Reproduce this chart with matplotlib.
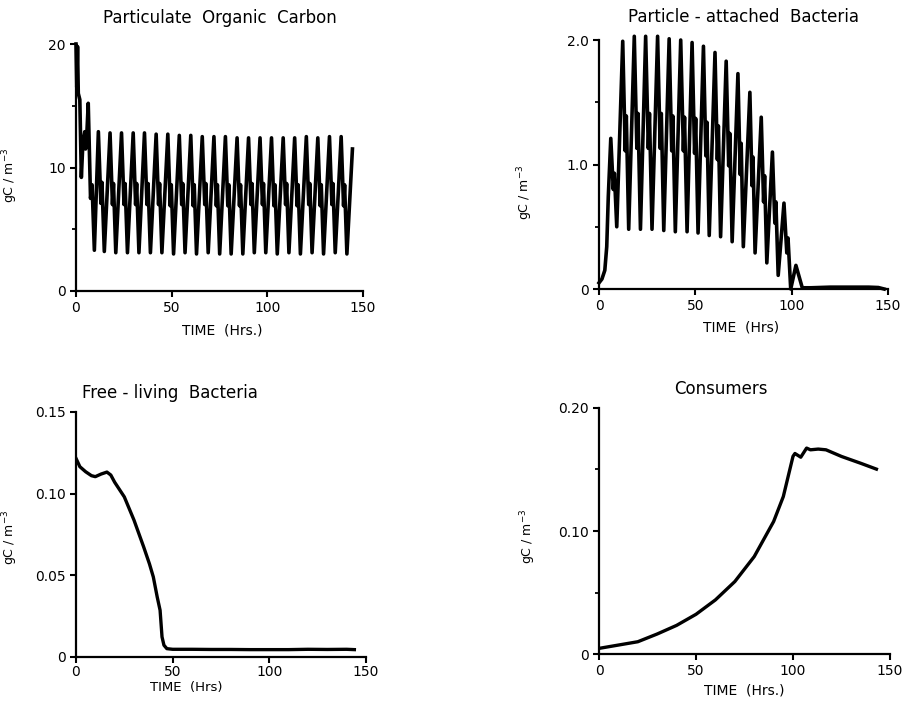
import matplotlib
matplotlib.use("Agg")
from matplotlib import pyplot as plt
from matplotlib.ticker import MultipleLocator

# Particulate organic carbon (gC m-3): start-up part, then one entry per cycle
poc_start_t = [0, 0.4, 0.8, 1.2, 2.0, 2.8, 3.6, 4.6, 5.0, 5.6, 6.4, 7.6, 8.4, 9.6]
poc_start_v = [20.0, 16.5, 19.8, 16.0, 15.5, 9.2, 12.0, 12.9, 11.5, 12.5, 15.2, 7.5, 8.6, 3.3]
poc_peak_t = [11.7, 17.8, 23.8, 29.9, 35.8, 41.9, 48.0, 54.0, 60.0, 66.0, 72.1,
              78.1, 84.2, 90.2, 96.2, 102.2, 108.3, 114.3, 120.4, 126.4, 132.5, 138.6]
poc_peak_v = [12.9, 12.8, 12.8, 12.8, 12.8, 12.7, 12.7, 12.6, 12.6, 12.5, 12.5,
              12.5, 12.4, 12.4, 12.4, 12.4, 12.4, 12.4, 12.5, 12.4, 12.5, 12.5]
poc_mid_lo = [7.1, 7.0, 7.0, 7.0, 7.0, 7.0, 6.9, 7.0, 6.9, 7.0, 6.9,
              6.9, 6.9, 7.0, 7.0, 6.9, 7.0, 6.9, 7.0, 6.9, 7.0, 6.9]
poc_mid_hi = [8.8, 8.7, 8.7, 8.7, 8.7, 8.7, 8.6, 8.7, 8.6, 8.7, 8.6,
              8.6, 8.6, 8.7, 8.7, 8.6, 8.7, 8.6, 8.7, 8.6, 8.7, 8.6]
poc_trough_t = [14.8, 20.8, 26.9, 32.9, 38.9, 44.9, 51.0, 57.0, 63.0, 69.1, 75.1,
                81.1, 87.2, 93.2, 99.2, 105.2, 111.3, 117.3, 123.4, 129.4, 135.5, 141.6]
poc_trough_v = [3.2, 3.1, 3.1, 3.1, 3.1, 3.1, 3.0, 3.1, 3.0, 3.1, 3.0,
                3.0, 3.0, 3.1, 3.1, 3.0, 3.1, 3.0, 3.1, 3.0, 3.1, 3.0]
poc_end_t = [144.5]
poc_end_v = [11.5]

# Particle-attached bacteria (gC m-3)
pab_start_t = [0, 1.5, 3.0, 4.0, 4.8]
pab_start_v = [0.05, 0.08, 0.15, 0.34, 0.74]
pab_peak_t = [6.1, 12.3, 18.3, 24.2, 30.4, 36.4, 42.4, 48.3, 54.2, 60.2, 66.0,
              72.1, 78.3, 84.2, 90.0, 96.0, 102.2]
pab_peak_v = [1.21, 1.99, 2.03, 2.03, 2.03, 2.01, 2.00, 1.98, 1.95, 1.90, 1.83,
              1.73, 1.58, 1.38, 1.10, 0.69, 0.19]
pab_mid_lo = [0.80, 1.11, 1.13, 1.13, 1.13, 1.11, 1.11, 1.09, 1.07, 1.04, 0.99,
              0.92, 0.83, 0.70, 0.53, 0.29, None]
pab_mid_hi = [0.93, 1.39, 1.41, 1.41, 1.41, 1.39, 1.38, 1.37, 1.34, 1.31, 1.25,
              1.17, 1.06, 0.91, 0.70, 0.41, None]
pab_trough_t = [9.2, 15.4, 21.5, 27.5, 33.6, 39.6, 45.7, 51.4, 57.2, 63.1, 69.1,
                74.9, 81.0, 87.1, 93.0, 99.5, 105.5]
pab_trough_v = [0.50, 0.48, 0.48, 0.48, 0.47, 0.46, 0.46, 0.45, 0.43, 0.42, 0.38,
                0.34, 0.29, 0.21, 0.11, 0.0, 0.01]
pab_end_t = [110, 120, 130, 140, 145, 148]
pab_end_v = [0.01, 0.015, 0.015, 0.015, 0.012, 0.0]

# Free-living bacteria (gC m-3)
fl_t = [0, 2, 5, 8, 10, 13, 16, 18, 20, 25, 30, 35, 38, 40, 42, 43.5, 44.5, 45.5,
        47, 50, 60, 70, 80, 90, 100, 110, 120, 130, 140, 144]
fl_v = [0.1216, 0.1165, 0.1134, 0.111, 0.1104, 0.112, 0.1132, 0.1114, 0.107, 0.098,
        0.0838, 0.0674, 0.057, 0.049, 0.0368, 0.0286, 0.0123, 0.0072, 0.0051, 0.0047,
        0.0047, 0.0046, 0.0046, 0.0045, 0.0045, 0.0045, 0.0047, 0.0046, 0.0047, 0.0045]

# Consumers (gC m-3)
con_t = [0, 10, 20, 30, 40, 50, 60, 70, 80, 90, 95, 100, 101, 104, 107, 109,
         113, 117, 125, 135, 143]
con_v = [0.0046, 0.0073, 0.010, 0.0163, 0.0233, 0.0323, 0.044, 0.0589, 0.0792,
         0.1077, 0.128, 0.1607, 0.163, 0.160, 0.1674, 0.166, 0.1666, 0.166,
         0.1606, 0.155, 0.1503]


# join the start-up part, the cycles (peak, shoulder, trough) and the tail
def cycles(start_t, start_v, peak_t, peak_v, lo, hi, trough_t, trough_v, end_t, end_v):
    t = list(start_t)
    v = list(start_v)
    for i in range(len(peak_t)):
        t.append(peak_t[i])
        v.append(peak_v[i])
        if lo[i] is not None:
            d = trough_t[i] - peak_t[i]
            t += [peak_t[i] + 0.42 * d, peak_t[i] + 0.6 * d]
            v += [lo[i], hi[i]]
        t.append(trough_t[i])
        v.append(trough_v[i])
    return t + list(end_t), v + list(end_v)


def style(ax, ylim, yticks, ylabels, minor=None):
    for s in ["top", "right"]:
        ax.spines[s].set_visible(False)
    for s in ["left", "bottom"]:
        ax.spines[s].set_linewidth(1.6)
    ax.set_xlim(0, 150)
    ax.set_ylim(*ylim)
    ax.set_xticks([0, 50, 100, 150])
    ax.set_yticks(yticks)
    ax.set_yticklabels(ylabels)
    if minor is not None:
        ax.yaxis.set_minor_locator(MultipleLocator(minor))
    ax.tick_params(which="major", width=1.5, length=4, labelsize=10, direction="out")
    ax.tick_params(which="minor", width=1.3, length=3, direction="out")
    ax.set_ylabel("gC / m$^{-3}$", fontsize=9)


fig = plt.figure(figsize=(9.09, 7.01), dpi=100)
ax1 = fig.add_axes([0.0836, 0.5849, 0.3157, 0.3523])
ax2 = fig.add_axes([0.659, 0.5877, 0.3179, 0.3552])
ax3 = fig.add_axes([0.0836, 0.0628, 0.319, 0.3495])
ax4 = fig.add_axes([0.659, 0.067, 0.3201, 0.351])

lw = 2.6
t, v = cycles(poc_start_t, poc_start_v, poc_peak_t, poc_peak_v, poc_mid_lo, poc_mid_hi,
              poc_trough_t, poc_trough_v, poc_end_t, poc_end_v)
ax1.plot(t, v, color="black", lw=lw, clip_on=False)
style(ax1, (0, 20), [0, 10, 20], ["0", "10", "20"], minor=5)
ax1.set_title("Particulate  Organic  Carbon", fontsize=12, pad=15)
ax1.set_xlabel("TIME  (Hrs.)", fontsize=10)
ax1.yaxis.set_label_coords(-0.195, 0.47)
ax1.xaxis.set_label_coords(0.51, -0.132)

t, v = cycles(pab_start_t, pab_start_v, pab_peak_t, pab_peak_v, pab_mid_lo, pab_mid_hi,
              pab_trough_t, pab_trough_v, pab_end_t, pab_end_v)
ax2.plot(t, v, color="black", lw=lw, clip_on=False)
style(ax2, (0, 2.0), [0, 1.0, 2.0], ["0", "1.0", "2.0"], minor=0.5)
ax2.set_title("Particle - attached  Bacteria", fontsize=12, pad=13)
ax2.set_xlabel("TIME  (Hrs)", fontsize=10)
ax2.yaxis.set_label_coords(-0.221, 0.39)
ax2.xaxis.set_label_coords(0.49, -0.126)

ax3.plot(fl_t, fl_v, color="black", lw=2.4)
style(ax3, (0, 0.15), [0, 0.05, 0.10, 0.15], ["0", "0.05", "0.10", "0.15"])
ax3.tick_params(axis="x", pad=2)
ax3.set_title("Free - living  Bacteria", fontsize=12, pad=10, x=0.324)
ax3.set_xlabel("TIME  (Hrs)", fontsize=9.5)
ax3.yaxis.set_label_coords(-0.193, 0.49)
ax3.xaxis.set_label_coords(0.38, -0.098)

ax4.plot(con_t, con_v, color="black", lw=2.4)
style(ax4, (0, 0.20), [0, 0.10, 0.20], ["0", "0.10", "0.20"], minor=0.05)
ax4.set_title("Consumers", fontsize=12, pad=10, x=0.42)
ax4.set_xlabel("TIME  (Hrs.)", fontsize=10)
ax4.yaxis.set_label_coords(-0.21, 0.48)
ax4.xaxis.set_label_coords(0.5, -0.12)

plt.savefig("out.png", dpi=100)
